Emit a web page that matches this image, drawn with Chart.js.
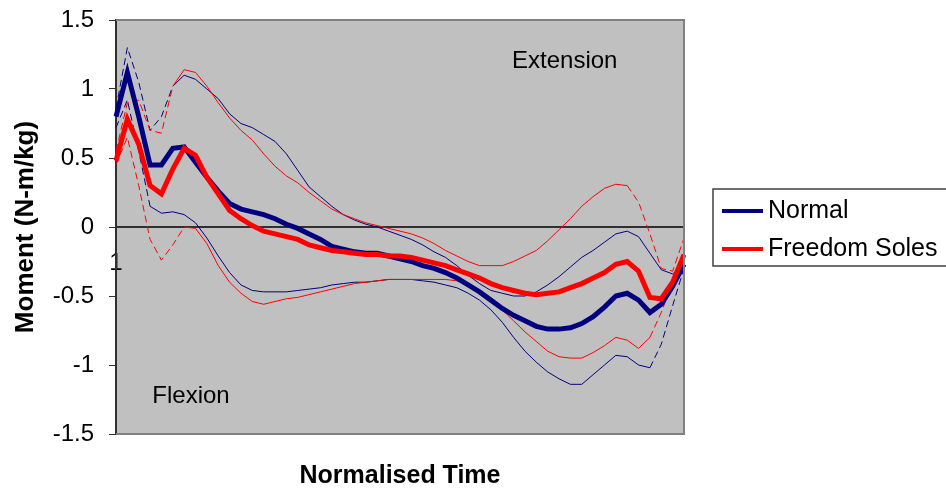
<!DOCTYPE html>
<html>
<head>
<meta charset="utf-8">
<title>Moment</title>
<script src="https://cdn.jsdelivr.net/npm/chart.js@4.4.1/dist/chart.umd.min.js"></script>
<style>
  body { margin: 0; background: #fff; }
  canvas { display: block; }
</style>
</head>
<body>
<canvas id="momentChart" width="946" height="493"></canvas>
<script>
// normalised time, 51 samples (2% steps) - only the first label is shown
const timeLabels = Array.from({ length: 51 }, (_, i) => i + 1);
const yTicks = [-1.5, -1, -0.5, 0, 0.5, 1, 1.5];

const normalMean = [0.80, 1.12, 0.80, 0.45, 0.45, 0.57, 0.58, 0.47, 0.36, 0.26,
  0.17, 0.13, 0.11, 0.09, 0.06, 0.02, -0.01, -0.05, -0.09, -0.14,
  -0.16, -0.18, -0.19, -0.19, -0.21, -0.23, -0.25, -0.28, -0.30, -0.33,
  -0.37, -0.42, -0.47, -0.53, -0.59, -0.64, -0.68, -0.72, -0.74, -0.74,
  -0.73, -0.70, -0.65, -0.58, -0.50, -0.48, -0.53, -0.62, -0.56, -0.43, -0.27];
const normalUpper = [0.86, 1.30, 1.05, 0.70, 0.80, 1.02, 1.10, 1.07, 1.00, 0.93,
  0.82, 0.75, 0.72, 0.67, 0.62, 0.53, 0.41, 0.29, 0.22, 0.15,
  0.09, 0.05, 0.02, 0.00, -0.03, -0.06, -0.09, -0.13, -0.18, -0.22,
  -0.28, -0.35, -0.41, -0.46, -0.48, -0.50, -0.50, -0.47, -0.42, -0.36,
  -0.29, -0.22, -0.17, -0.11, -0.05, -0.03, -0.07, -0.19, -0.31, -0.34, -0.27];
const normalLower = [0.72, 0.92, 0.55, 0.15, 0.10, 0.11, 0.09, 0.03, -0.08, -0.21,
  -0.33, -0.42, -0.46, -0.47, -0.47, -0.47, -0.46, -0.45, -0.44, -0.42,
  -0.41, -0.40, -0.40, -0.39, -0.38, -0.38, -0.38, -0.39, -0.40, -0.42,
  -0.44, -0.48, -0.53, -0.60, -0.69, -0.80, -0.90, -0.98, -1.05, -1.10,
  -1.14, -1.14, -1.07, -1.00, -0.93, -0.94, -1.00, -1.02, -0.85, -0.57, -0.30];

const freedomMean = [0.48, 0.78, 0.60, 0.30, 0.24, 0.42, 0.57, 0.52, 0.36, 0.24,
  0.12, 0.06, 0.01, -0.03, -0.05, -0.07, -0.09, -0.13, -0.15, -0.17,
  -0.18, -0.19, -0.20, -0.20, -0.21, -0.21, -0.22, -0.24, -0.26, -0.28,
  -0.31, -0.34, -0.37, -0.41, -0.44, -0.46, -0.48, -0.49, -0.48, -0.47,
  -0.44, -0.41, -0.37, -0.33, -0.27, -0.25, -0.32, -0.51, -0.52, -0.40, -0.20];
const freedomUpper = [0.55, 0.90, 0.92, 0.70, 0.68, 1.02, 1.14, 1.12, 1.02, 0.90,
  0.79, 0.70, 0.63, 0.53, 0.44, 0.37, 0.32, 0.25, 0.19, 0.13,
  0.09, 0.06, 0.03, 0.01, -0.01, -0.03, -0.05, -0.08, -0.12, -0.17,
  -0.21, -0.25, -0.28, -0.28, -0.28, -0.25, -0.21, -0.17, -0.10, -0.02,
  0.06, 0.15, 0.22, 0.28, 0.31, 0.30, 0.18, -0.05, -0.30, -0.32, -0.08];
const freedomLower = [0.45, 0.65, 0.30, -0.09, -0.24, -0.13, 0.00, -0.01, -0.12, -0.28,
  -0.40, -0.48, -0.54, -0.56, -0.54, -0.52, -0.51, -0.49, -0.47, -0.45,
  -0.43, -0.41, -0.40, -0.39, -0.38, -0.38, -0.38, -0.38, -0.38, -0.38,
  -0.39, -0.42, -0.46, -0.52, -0.60, -0.68, -0.76, -0.83, -0.90, -0.94,
  -0.95, -0.95, -0.91, -0.86, -0.80, -0.82, -0.88, -0.80, -0.62, -0.40, -0.20];

const NAVY = "#000080";
const RED = "#ff0000";
const FONT = "'Liberation Sans', Arial, sans-serif";

// segments drawn dashed: [from, to) by index of the first point
function dashed(ranges) {
  return ctx => ranges.some(r => ctx.p0DataIndex >= r[0] && ctx.p0DataIndex < r[1]) ? [7, 4] : [];
}

function thinLine(label, data, color, ranges) {
  return {
    label: label, data: data, borderColor: color, borderWidth: 1,
    pointRadius: 0, tension: 0, order: 3,
    segment: { borderDash: dashed(ranges) }
  };
}

const plotBack = {
  id: "plotBack",
  beforeDraw(chart) {
    const a = chart.chartArea, c = chart.ctx;
    c.save();
    c.fillStyle = "#c0c0c0";
    c.fillRect(a.left, a.top, a.right - a.left, a.bottom - a.top);
    c.restore();
  },
  afterDatasetsDraw(chart) {
    const a = chart.chartArea, c = chart.ctx;
    c.save();
    c.strokeStyle = "#808080";
    c.lineWidth = 2;
    c.beginPath();
    c.moveTo(a.left, a.top); c.lineTo(a.right, a.top);
    c.lineTo(a.right, a.bottom); c.lineTo(a.left, a.bottom);
    c.stroke();
    // region labels
    const x = chart.scales.x, y = chart.scales.y;
    c.fillStyle = "#000";
    c.font = "24px " + FONT;
    c.textAlign = "center";
    c.textBaseline = "middle";
    c.fillText("Extension", x.getPixelForValue(39.5), y.getPixelForValue(1.2));
    c.fillText("Flexion", x.getPixelForValue(6.6), y.getPixelForValue(-1.23));
    c.restore();
  }
};

const boxLegend = {
  id: "boxLegend",
  afterDraw(chart) {
    const c = chart.ctx;
    const left = chart.chartArea.right + 29, top = 189, bottom = 266;
    const items = chart.data.datasets.filter(d => d.legendRank).sort((a, b) => a.legendRank - b.legendRank);
    c.save();
    c.strokeStyle = "#404040";
    c.lineWidth = 1.5;
    c.beginPath();
    c.moveTo(chart.width + 2, top); c.lineTo(left, top);
    c.lineTo(left, bottom); c.lineTo(chart.width + 2, bottom);
    c.stroke();
    c.font = "25px " + FONT;
    c.textBaseline = "middle";
    c.fillStyle = "#000";
    items.forEach((d, i) => {
      const yy = 211 + i * 38;
      c.strokeStyle = d.borderColor;
      c.lineWidth = 4;
      c.beginPath();
      c.moveTo(left + 9, yy); c.lineTo(left + 50, yy);
      c.stroke();
      c.fillText(d.label, left + 55, yy);
    });
    c.restore();
  }
};

new Chart(document.getElementById("momentChart"), {
  type: "line",
  data: {
    labels: timeLabels,
    datasets: [
      { label: "Freedom Soles", data: freedomMean, borderColor: RED, borderWidth: 5,
        pointRadius: 0, tension: 0, order: 0, legendRank: 2 },
      { label: "Normal", data: normalMean, borderColor: NAVY, borderWidth: 5,
        pointRadius: 0, tension: 0, order: 1, legendRank: 1 },
      thinLine("Freedom Soles +SD", freedomUpper, RED, [[0, 5], [45, 50]]),
      thinLine("Freedom Soles -SD", freedomLower, RED, [[0, 6], [47, 50]]),
      thinLine("Normal +SD", normalUpper, NAVY, [[0, 5]]),
      thinLine("Normal -SD", normalLower, NAVY, [[0, 3], [47, 50]])
    ]
  },
  options: {
    responsive: false,
    animation: false,
    devicePixelRatio: 1,
    layout: { padding: { left: 0, right: 262, top: 20, bottom: 0 } },
    plugins: {
      legend: { display: false },
      tooltip: { enabled: false },
      title: {
        display: true, position: "bottom", fullSize: false,
        text: "Normalised Time", color: "#000",
        font: { family: FONT, size: 25, weight: "bold" },
        padding: { top: 27, bottom: 2 }
      }
    },
    scales: {
      x: {
        type: "category",
        position: { y: 0 },
        grid: { display: false },
        border: { display: true, color: "#303030", width: 2 },
        ticks: {
          autoSkip: false, maxRotation: 0, padding: 14,
          color: "#000", font: { family: FONT, size: 24 },
          callback: (v, i) => i === 0 ? String(timeLabels[0]) : ""
        }
      },
      y: {
        min: yTicks[0], max: yTicks[yTicks.length - 1],
        afterBuildTicks: s => { s.ticks = yTicks.map(v => ({ value: v })); },
        afterFit: s => { s.width = 116; s.paddingTop = 0; s.paddingBottom = 0; },
        grid: { drawOnChartArea: false, drawTicks: true, tickLength: 7, color: "#303030" },
        border: { display: true, color: "#303030", width: 2 },
        ticks: {
          padding: 15, color: "#000", font: { family: FONT, size: 24 },
          callback: v => String(v)
        },
        title: {
          display: true, text: "Moment (N-m/kg)", color: "#000",
          font: { family: FONT, size: 26, weight: "bold" },
          padding: { top: 10, bottom: 0 }
        }
      }
    }
  },
  plugins: [plotBack, boxLegend]
});
</script>
</body>
</html>
